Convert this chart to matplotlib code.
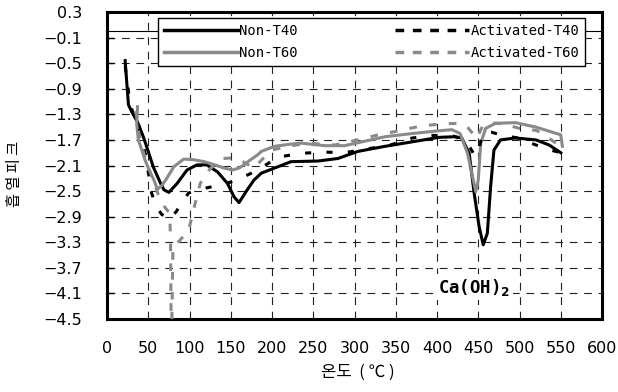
import matplotlib
matplotlib.use("Agg")
import matplotlib.pyplot as plt
from matplotlib.lines import Line2D
import numpy as np

plt.rcParams['font.family'] = ['DejaVu Sans', 'Noto Sans CJK KR']

# 온도 (x) / 흡열피크 (y)
non_t40_x = [22, 24, 26, 30, 37, 44, 50, 56, 65, 69, 75, 80, 85, 97, 109, 121, 134, 146, 154, 160,
             170, 178, 187, 203, 223, 256, 280, 304, 337, 370, 402, 422, 430, 439, 445, 451, 456,
             461, 465, 469, 477, 495, 520, 536, 550]
non_t40_y = [-0.46, -0.81, -1.15, -1.26, -1.42, -1.65, -1.88, -2.12, -2.38, -2.48, -2.52, -2.45,
             -2.38, -2.17, -2.09, -2.09, -2.20, -2.38, -2.59, -2.68, -2.48, -2.33, -2.22, -2.14,
             -2.04, -2.03, -1.99, -1.88, -1.80, -1.73, -1.66, -1.65, -1.67, -1.91, -2.53, -3.05,
             -3.34, -3.16, -2.43, -1.86, -1.70, -1.67, -1.70, -1.78, -1.90]

non_t60_x = [37, 36, 38, 42, 46, 52, 57, 61, 66, 71, 81, 93, 105, 118, 126, 142, 152, 160, 166,
             174, 183, 187, 203, 220, 235, 264, 288, 309, 337, 370, 400, 418, 428, 437, 443, 447,
             450, 453, 459, 471, 495, 520, 540, 550, 552]
non_t60_y = [-1.18, -1.45, -1.70, -1.85, -2.01, -2.20, -2.33, -2.47, -2.42, -2.33, -2.12, -2.00,
             -2.01, -2.04, -2.07, -2.14, -2.17, -2.14, -2.09, -2.01, -1.93, -1.88, -1.80, -1.77,
             -1.75, -1.79, -1.79, -1.73, -1.65, -1.60, -1.56, -1.54, -1.60, -1.91, -2.27, -2.51,
             -2.33, -1.75, -1.52, -1.44, -1.43, -1.50, -1.58, -1.62, -1.80]

act_t40_x = [22, 25, 28, 33, 40, 47, 54, 60, 66, 75, 84, 92, 99, 110, 128, 145, 156, 170, 183,
             207, 235, 262, 288, 315, 341, 370, 394, 418, 432, 440, 446, 450, 455, 466, 477, 498,
             520, 538, 550]
act_t40_y = [-0.55, -0.85, -1.12, -1.35, -1.55, -1.95, -2.53, -2.75, -2.86, -2.95, -2.82, -2.65,
             -2.53, -2.48, -2.43, -2.38, -2.33, -2.25, -2.17, -1.97, -1.91, -1.89, -1.90, -1.84,
             -1.79, -1.67, -1.63, -1.63, -1.70, -1.82, -1.95, -1.90, -1.60, -1.58, -1.62, -1.67,
             -1.78, -1.86, -1.90]

act_t60_x = [35, 38, 42, 48, 55, 62, 70, 76, 77, 78, 80, 87, 99, 105, 113, 125, 141, 154, 166,
             178, 199, 220, 243, 276, 304, 329, 349, 378, 404, 428, 437, 442, 447, 451, 455, 463,
             480, 503, 520, 528, 544, 552]
act_t60_y = [-1.25, -1.55, -1.80, -2.05, -2.30, -2.55, -2.75, -2.85, -3.25, -5.0, -3.35, -3.29,
             -3.11, -2.79, -2.38, -2.15, -1.99, -1.98, -2.05, -2.14, -1.86, -1.80, -1.75, -1.78,
             -1.70, -1.62, -1.57, -1.49, -1.45, -1.44, -1.50, -1.58, -1.68, -1.60, -1.49, -1.43,
             -1.45, -1.53, -1.55, -1.60, -1.75, -1.80]

x_ticks = list(range(0, 601, 50))
y_ticks = [0.3, -0.1, -0.5, -0.9, -1.3, -1.7, -2.1, -2.5, -2.9, -3.3, -3.7, -4.1, -4.5]
y_tick_labels = ["0.3", "−0.1", "−0.5", "−0.9", "−1.3", "−1.7", "−2.1", "−2.5", "−2.9",
                 "−3.3", "−3.7", "−4.1", "−4.5"]

BLACK = "#000000"
GRAY = "#8a8a8a"

fig = plt.figure(figsize=(6.18, 3.92), dpi=100)
ax = fig.add_axes([107 / 618, 1 - 319 / 392, 495 / 618, 307 / 392])

ax.axhline(0, color="black", lw=0.8, zorder=1)
ax.plot(non_t40_x, non_t40_y, color=BLACK, lw=2.2, zorder=3)
ax.plot(act_t40_x, act_t40_y, color=BLACK, lw=2.2, dashes=(2, 5), zorder=4)
ax.plot(non_t60_x, non_t60_y, color=GRAY, lw=2.2, zorder=3)
ax.plot(act_t60_x, act_t60_y, color=GRAY, lw=2.2, dashes=(2.5, 4), zorder=4)

ax.set_xlim(0, 600)
ax.set_ylim(-4.5, 0.3)
ax.set_xticks(x_ticks)
ax.set_yticks(y_ticks)
ax.set_yticklabels(y_tick_labels)
ax.tick_params(axis="y", direction="in", length=5, width=1, pad=18, labelsize=11.5)
ax.tick_params(axis="x", length=0, pad=16, labelsize=11.5)
ax.grid(True, color="#222222", lw=0.8, linestyle=(0, (7, 6)))
for s in ax.spines.values():
    s.set_linewidth(2.2)

ax.text(401, -4.0, "Ca(OH)$_\\mathbf{2}$", family="DejaVu Sans Mono", fontsize=12.5,
        fontweight="bold", va="center", ha="left", zorder=5,
        bbox=dict(facecolor="white", edgecolor="none", pad=2))

handles = [
    Line2D([], [], color=BLACK, lw=2.5),
    Line2D([], [], color=GRAY, lw=2.5),
    Line2D([], [], color=BLACK, lw=2.5, dashes=(2.5, 2.5)),
    Line2D([], [], color=GRAY, lw=2.5, dashes=(2.5, 2.5)),
]
labels = ["Non-T40", "Non-T60", "Activated-T40", "Activated-T60"]
leg = ax.legend(handles, labels, ncol=2, loc="upper right", bbox_to_anchor=(0.975, 0.995),
                prop={"family": "DejaVu Sans Mono", "size": 10}, handlelength=5.3,
                handletextpad=0.1, columnspacing=7.0, labelspacing=0.55, borderpad=0.45,
                borderaxespad=0.3, fancybox=False, framealpha=1, edgecolor="black")
leg.get_frame().set_linewidth(1.0)
leg.set_zorder(6)

fig.text(15 / 618, 1 - 174 / 392, "흡 열 피 크", rotation=90, ha="center", va="center",
         fontsize=11, family=["Noto Sans CJK KR"])
fig.text(358 / 618, 1 - 372 / 392, "온도  ( ℃ )", ha="center", va="center", fontsize=12,
         family=["Noto Sans CJK KR", "DejaVu Sans"])

fig.savefig("out.png", dpi=100)
